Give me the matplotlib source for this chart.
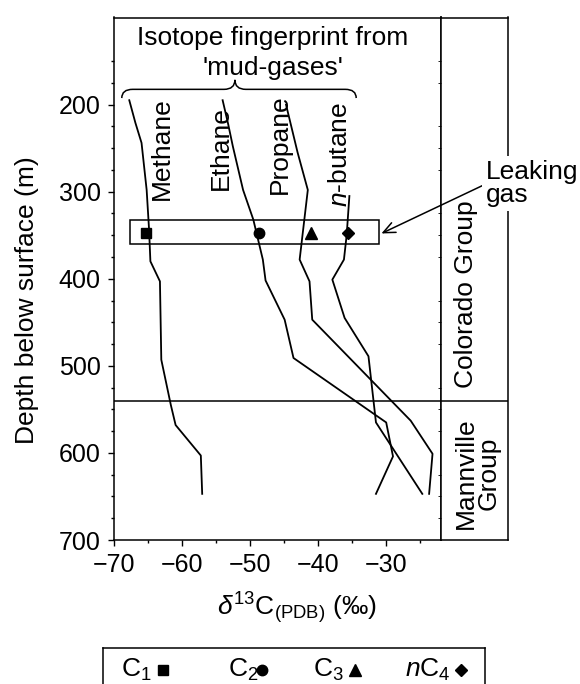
import matplotlib
matplotlib.use('Agg')
import matplotlib.pyplot as plt
from matplotlib.path import Path
from matplotlib.patches import PathPatch, Rectangle
from matplotlib.ticker import FixedLocator

plt.rcParams['font.family'] = ['Liberation Sans', 'DejaVu Sans']
plt.rcParams['mathtext.fontset'] = 'custom'
plt.rcParams['mathtext.rm'] = 'Liberation Sans'
plt.rcParams['mathtext.it'] = 'Liberation Sans:italic'
plt.rcParams['mathtext.bf'] = 'Liberation Sans:bold'

# mud-gas isotope profiles (depth in m, d13C in permil)
methane_depth = [195, 221, 244, 298, 343, 380, 403, 493, 545, 568, 603, 647]
methane_d13c = [-67.7, -66.8, -65.9, -65.15, -64.8, -64.6, -63.2, -63.0, -61.6, -60.9, -57.2, -57.0]

ethane_depth = [195, 222, 248, 298, 332, 378, 402, 447, 491, 565, 604, 647]
ethane_d13c = [-54.0, -53.2, -52.5, -51.0, -49.5, -48.1, -47.7, -44.9, -43.6, -30.0, -29.0, -31.5]

propane_depth = [200, 255, 298, 378, 403, 447, 563, 601, 647]
propane_d13c = [-44.7, -43.0, -41.5, -42.7, -41.25, -40.85, -26.4, -23.2, -23.7]

nbutane_depth = [305, 350, 378, 401, 445, 489, 565, 647]
nbutane_d13c = [-35.4, -35.8, -36.2, -37.9, -36.1, -32.6, -31.5, -24.7]

# leaking gas sample
leak_depth = 348
leak_d13c = [-65.2, -48.6, -41.0, -35.6]
leak_markers = ['s', 'o', '^', 'D']
leak_ms = [6.5, 7.5, 8.5, 6.0]

boundary_depth = 540   # Colorado / Mannville

gas_names = ['Methane', 'Ethane', 'Propane', '$n$-butane']
name_x = [-61.9, -53.25, -44.5, -35.8]
name_y = [309, 297.6, 303, 318]

legend_labels = [r'$\mathrm{C}_1$', r'$\mathrm{C}_2$', r'$\mathrm{C}_3$', r'$n\mathrm{C}_4$']

fig = plt.figure(figsize=(5.8, 6.84), dpi=100)
W, H = 580.0, 684.0
x0, x1, y0, y1 = 113.6, 440.7, 17.5, 540.0
ax = fig.add_axes([x0 / W, 1 - y1 / H, (x1 - x0) / W, (y1 - y0) / H])
ax2 = fig.add_axes([x1 / W, 1 - y1 / H, (508 - x1) / W, (y1 - y0) / H], sharey=ax)

lw = 1.1
for a in (ax, ax2):
    for s in a.spines.values():
        s.set_linewidth(lw)

series = [(methane_d13c, methane_depth), (ethane_d13c, ethane_depth),
          (propane_d13c, propane_depth), (nbutane_d13c, nbutane_depth)]
for xs, ys in series:
    ax.plot(xs, ys, color='k', lw=1.3)

for xv, m, ms in zip(leak_d13c, leak_markers, leak_ms):
    ax.plot(xv, leak_depth, marker=m, ms=ms, color='k', ls='none')

ax.add_patch(Rectangle((-67.66, 332.5), -31.05 + 67.66, 360 - 332.5,
                       fill=False, ec='k', lw=lw))

ax.axhline(boundary_depth, color='k', lw=lw)
ax2.axhline(boundary_depth, color='k', lw=lw)

for name, tx, ty in zip(gas_names, name_x, name_y):
    ax.text(tx, ty, name, rotation=90, rotation_mode='anchor',
            ha='left', va='baseline', fontsize=19)

# title and brace
ax.text(-46.6, 131.5, 'Isotope fingerprint from', ha='center', va='baseline', fontsize=19)
ax.text(-46.6, 165.9, "'mud-gases'", ha='center', va='baseline', fontsize=19)
bl, br, bp = -68.8, -34.4, -52.2
ye, ya, yp = 192.5, 182.5, 171.6
r = 1.6
verts = [(bl, ye), (bl, ya), (bl + r, ya), (bp - r, ya), (bp, ya), (bp, yp),
         (bp, ya), (bp + r, ya), (br - r, ya), (br, ya), (br, ye)]
codes = [Path.MOVETO, Path.CURVE3, Path.CURVE3, Path.LINETO, Path.CURVE3, Path.CURVE3,
         Path.CURVE3, Path.CURVE3, Path.LINETO, Path.CURVE3, Path.CURVE3]
ax.add_patch(PathPatch(Path(verts, codes), fill=False, ec='k', lw=lw))

ax.set_xlim(-70, -22)
ax.set_ylim(700, 100)
ax.set_xticks([-70, -60, -50, -40, -30])
ax.xaxis.set_minor_locator(FixedLocator([-65, -55, -45, -35, -25]))
ax.set_yticks([200, 300, 400, 500, 600, 700])
ax.yaxis.set_minor_locator(FixedLocator([d for d in range(150, 700, 25) if d % 100]))
ax.tick_params(which='major', length=4.3, width=1, direction='out', labelsize=18, pad=5)
ax.tick_params(which='minor', length=2.5, width=1, direction='out')

ax.set_ylabel('Depth below surface (m)', fontsize=19, va='baseline')
ax.yaxis.set_label_coords((34 - x0) / (x1 - x0), (y1 - 300) / (y1 - y0))
ax.set_xlabel(r'$\delta^{13}\mathrm{C}_{(\mathrm{PDB})}$ (‰)', fontsize=19, va='baseline')
ax.xaxis.set_label_coords((296.7 - x0) / (x1 - x0), (y1 - 615) / (y1 - y0))

# formation panel
ax2.set_xlim(0, 1)
ax2.tick_params(left=False, labelleft=False, bottom=False, labelbottom=False)
ax2.text(0.484, 418, 'Colorado Group', rotation=90, rotation_mode='anchor',
         ha='center', va='baseline', fontsize=19)
ax2.text(0.484, 623, 'Mannville', rotation=90, rotation_mode='anchor',
         ha='center', va='baseline', fontsize=19)
ax2.text(0.814, 623, 'Group', rotation=90, rotation_mode='anchor',
         ha='center', va='baseline', fontsize=19)

ax2.annotate('Leaking\ngas', xy=(-30.7, leak_depth), xycoords=ax.transData,
             xytext=(-15.33, 291), textcoords=ax.transData,
             ha='left', va='center', fontsize=19, linespacing=0.95,
             bbox=dict(boxstyle='square,pad=0.15', fc='white', ec='none'),
             arrowprops=dict(arrowstyle='->,head_length=0.45,head_width=0.2',
                             color='k', lw=lw, relpos=(0, 0.5), shrinkA=0, shrinkB=0),
             annotation_clip=False)

# legend key box
lb_top, lb_bot = 648.0, 725.0
ax3 = fig.add_axes([103.3 / W, 1 - lb_bot / H, (485 - 103.3) / W, (lb_bot - lb_top) / H])
ax3.set_xlim(103.3, 485)
ax3.set_ylim(lb_bot, lb_top)
ax3.set_xticks([])
ax3.set_yticks([])
for s in ax3.spines.values():
    s.set_linewidth(lw)
label_x = [120.7, 228.3, 313.3, 405]
key_x = [163, 262, 355, 461]
for lab, lx, kx, m, ms in zip(legend_labels, label_x, key_x, leak_markers, leak_ms):
    ax3.text(lx, 676.7, lab, ha='left', va='baseline', fontsize=19)
    ax3.plot(kx, 670, marker=m, ms=ms, color='k', ls='none')

fig.savefig('out.png', dpi=100)
